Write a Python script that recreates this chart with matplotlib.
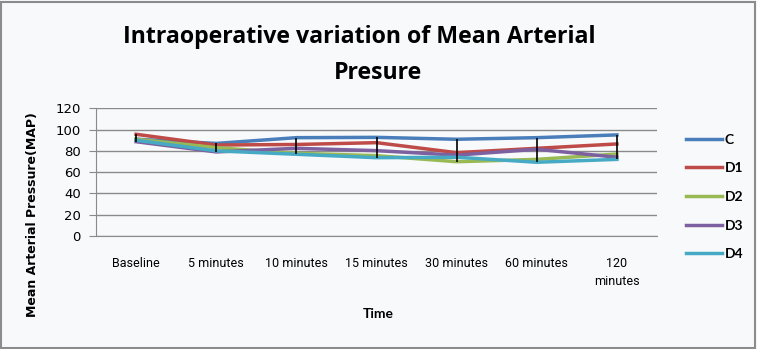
import matplotlib
matplotlib.use("Agg")
import matplotlib.pyplot as plt
import numpy as np

categories = ["Baseline", "5 minutes", "10 minutes", "15 minutes", "30 minutes", "60 minutes", "120\nminutes"]
C  = [91, 87, 92.4, 92.7, 90.9, 92.4, 95]
D1 = [95.6, 85.5, 86, 87.7, 78.3, 82.4, 86.5]
D2 = [91, 83, 77.7, 75.5, 69.8, 72, 77]
D3 = [88.6, 79, 82.4, 80.2, 76, 81.5, 74]
D4 = [90, 80, 76.8, 73.6, 74, 69.3, 72]
series_names = ["C", "D1", "D2", "D3", "D4"]
series = [C, D1, D2, D3, D4]
colors = ["#4a7ebb", "#be4b48", "#98b954", "#7d60a0", "#46aac5"]

W, H = 757, 349
fig = plt.figure(figsize=(W/100, H/100), dpi=100)
fig.patch.set_facecolor("#f8f9fb")
fig.add_artist(plt.Rectangle((1/W, 1/H), 1 - 3/W, 1 - 3/H, transform=fig.transFigure,
                             fill=False, edgecolor="#8c8c8c", linewidth=1.5))

ax = fig.add_axes([96/W, (H-236)/H, (657-96)/W, (236-108.3)/H])
ax.set_facecolor("#f8f9fb")
x = np.arange(len(categories))
data = np.array(series)
ax.vlines(x, data.min(axis=0), data.max(axis=0), color="black", linewidth=1.2, zorder=3)
for name, vals, col in zip(series_names, series, colors):
    ax.plot(x, vals, color=col, linewidth=2.5, label=name, zorder=2)

ax.set_xlim(-0.5, len(categories) - 0.5)
ax.set_ylim(0, 120)
ax.set_yticks(range(0, 121, 20))
ax.grid(axis="y", color="#8a8a8a", linewidth=1.0)
ax.set_axisbelow(True)
for s in ["top", "right"]:
    ax.spines[s].set_visible(False)
for s in ["left", "bottom"]:
    ax.spines[s].set_color("#8a8a8a")
ax.set_xticks(x)
ax.set_xticklabels(categories, fontsize=9, family=["Roboto", "DejaVu Sans"], linespacing=1.5)
ax.tick_params(axis="x", length=0, pad=15)
ax.tick_params(axis="y", length=5, color="#8a8a8a", direction="out", pad=6)
for lab in ax.get_yticklabels():
    lab.set_family(["DejaVu Sans"])
    lab.set_fontsize(9.5)

ax.set_ylabel("Mean Arterial Pressure(MAP)", fontsize=9, fontweight="bold", family="DejaVu Sans")
ax.yaxis.set_label_coords(-(96 - 39) / (657 - 96), (236 - 215) / (236 - 108.3))

fig.text(378/W, 1 - 314/H, "Time", ha="center", va="center", fontsize=10, fontweight="bold",
         family=["Lato", "DejaVu Sans"])

fig.text(359/W, 1 - 43/H, "Intraoperative variation of Mean Arterial", ha="center", va="baseline",
         fontsize=16.7, fontweight="bold", family=["Open Sans", "DejaVu Sans"])
fig.text(378/W, 1 - 79/H, "Presure", ha="center", va="baseline",
         fontsize=16.7, fontweight="bold", family=["Open Sans", "DejaVu Sans"])

leg = fig.legend(loc="upper left", bbox_to_anchor=(673/W, 1 - 121/H), frameon=False,
                 handlelength=2.6, handletextpad=0.2, labelspacing=1.2,
                 prop={"family": ["Lato", "DejaVu Sans"], "size": 10, "weight": "bold"})

fig.savefig("out.png", dpi=100, facecolor=fig.get_facecolor())
